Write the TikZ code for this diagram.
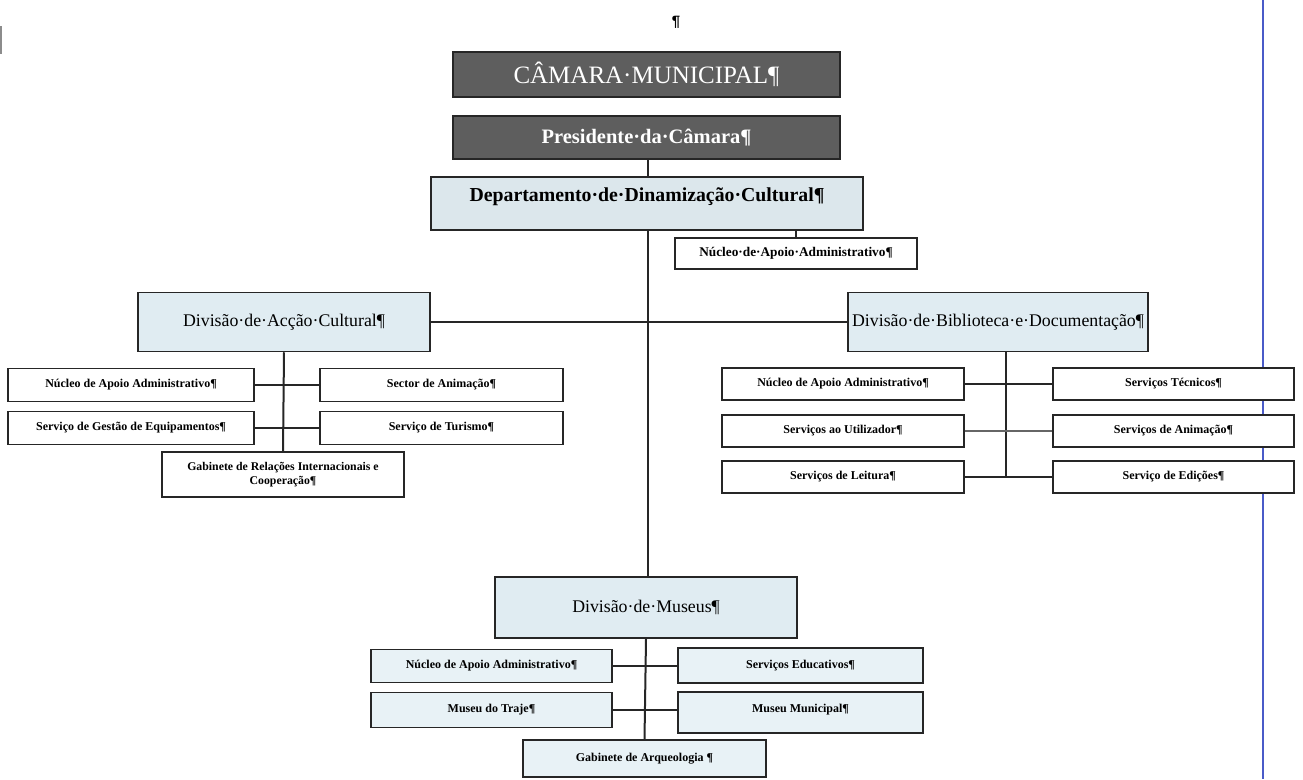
\documentclass[tikz,border=0pt]{standalone}
\usepackage{fontspec}
\setmainfont{Liberation Serif}
\newfontfamily\marksans{Liberation Sans}
\definecolor{headgray}{HTML}{5E5E5E}
\definecolor{divblue}{HTML}{E0ECF2}
\definecolor{deptblue}{HTML}{DCE7EC}
\definecolor{subblue}{HTML}{E8F2F6}
\definecolor{marginblue}{HTML}{4A5BC8}
\newcommand{\fs}[1]{\fontsize{#1}{1.2\dimexpr#1pt\relax}\selectfont}
\begin{document}
\begin{tikzpicture}[x=1pt,y=-1pt,
  box/.style={draw=black!85, line width=1.5pt, inner sep=0pt, align=center},
  headbox/.style={box, fill=headgray, text=white},
  divbox/.style={box, fill=divblue, font=\fs{17.8}},
  subbox/.style={box, fill=white, font=\fs{12}\bfseries},
  musbox/.style={box, fill=subblue, font=\fs{12}\bfseries},
  link/.style={draw=black!85, line width=2pt},
  thinlink/.style={draw=black!60, line width=1.2pt}]
\useasboundingbox (0,0) rectangle (1303,779);

% page furniture: paragraph mark, margin rule, left edge mark
\node (mark) at (676,22) {\marksans\bfseries\fs{15}¶};
\draw[marginblue, line width=1.3pt] (1263,0) -- (1263,779);
\draw[black!45, line width=2.5pt] (1,26) -- (1,54);

% top of the hierarchy
\node[headbox, minimum width=387pt, minimum height=45pt, font=\fs{25}]
  (cm) at (646.5,74.5) {CÂMARA·MUNICIPAL¶};
\node[headbox, minimum width=387pt, minimum height=43pt, font=\fs{20.5}\bfseries]
  (pres) at (646.5,137.5) {Presidente·da·Câmara¶};
\node[box, fill=deptblue, minimum width=432pt, minimum height=53pt, font=\fs{19.8}\bfseries]
  (dept) at (647,203.5) {\raisebox{17pt}{Departamento·de·Dinamização·Cultural¶}};
\node[subbox, minimum width=242pt, minimum height=31pt, font=\fs{13.3}\bfseries]
  (nucD) at (796,253.5) {Núcleo·de·Apoio·Administrativo¶};

% divisions
\node[divbox, minimum width=292pt, minimum height=59pt] (acc) at (284,322)
  {Divisão·de·Acção·Cultural¶};
\node[divbox, minimum width=300pt, minimum height=59pt] (bib) at (998,322)
  {Divisão·de·Biblioteca·e·Documentação¶};
\node[divbox, minimum width=302pt, minimum height=61pt] (mus) at (646,607.5)
  {Divisão·de·Museus¶};

% Divisão de Acção Cultural
\node[subbox, minimum width=246pt, minimum height=33pt] (nucA) at (131,385)
  {Núcleo de Apoio Administrativo¶};
\node[subbox, minimum width=246pt, minimum height=33pt] (gesA) at (131,428)
  {Serviço de Gestão de Equipamentos¶};
\node[subbox, minimum width=243pt, minimum height=33pt] (secA) at (441.5,385)
  {Sector de Animação¶};
\node[subbox, minimum width=243pt, minimum height=33pt] (turA) at (441.5,428)
  {Serviço de Turismo¶};
\node[subbox, minimum width=242pt, minimum height=45pt, font=\fs{11.8}\bfseries] (gabA) at (283,474.5)
  {Gabinete de Relações Internacionais e\\Cooperação¶};

% Divisão de Biblioteca e Documentação
\node[subbox, minimum width=242pt, minimum height=32pt] (nucB) at (843,384)
  {Núcleo de Apoio Administrativo¶};
\node[subbox, minimum width=242pt, minimum height=32pt] (utiB) at (843,431)
  {Serviços ao Utilizador¶};
\node[subbox, minimum width=242pt, minimum height=32pt] (leiB) at (843,477)
  {Serviços de Leitura¶};
\node[subbox, minimum width=241pt, minimum height=32pt] (tecB) at (1173.5,384)
  {Serviços Técnicos¶};
\node[subbox, minimum width=241pt, minimum height=32pt] (aniB) at (1173.5,431)
  {Serviços de Animação¶};
\node[subbox, minimum width=241pt, minimum height=32pt] (ediB) at (1173.5,477)
  {Serviço de Edições¶};

% Divisão de Museus
\node[musbox, minimum width=241pt, minimum height=33pt] (nucM) at (491.5,666)
  {Núcleo de Apoio Administrativo¶};
\node[musbox, minimum width=241pt, minimum height=35pt] (trajM) at (491.5,710)
  {Museu do Traje¶};
\node[musbox, minimum width=245pt, minimum height=35pt] (eduM) at (800.5,665.5)
  {Serviços Educativos¶};
\node[musbox, minimum width=245pt, minimum height=41pt] (munM) at (800.5,712.5)
  {\raisebox{9pt}{Museu Municipal¶}};
\node[musbox, minimum width=243pt, minimum height=37pt] (arqM) at (644.5,758.5)
  {Gabinete de Arqueologia ¶};

% spine positions
\coordinate (mainx) at (648,0);
\coordinate (nucDx) at (796,0);
\coordinate (bibx) at (1006,0);

% connectors
\draw[link] (pres.south -| mainx) -- (dept.north -| mainx);
\draw[link] (dept.south -| mainx) -- (mus.north -| mainx);
\draw[link] (dept.south -| nucDx) -- (nucD.north);
\draw[link] (acc.east) -- (bib.west);

\draw[link] (acc.south) -- (gabA.north);
\draw[link] (nucA.east) -- (secA.west);
\draw[link] (gesA.east) -- (turA.west);

\draw[link] (bib.south -| bibx) -- (leiB.east -| bibx);
\draw[link] (nucB.east) -- (tecB.west);
\draw[thinlink] (utiB.east) -- (aniB.west);
\draw[link] (leiB.east) -- (ediB.west);

\draw[link] (mus.south) -- (arqM.north);
\draw[link] (nucM.east) -- (eduM.west |- nucM.east);
\draw[link] (trajM.east) -- (munM.west |- trajM.east);
\end{tikzpicture}
\end{document}
